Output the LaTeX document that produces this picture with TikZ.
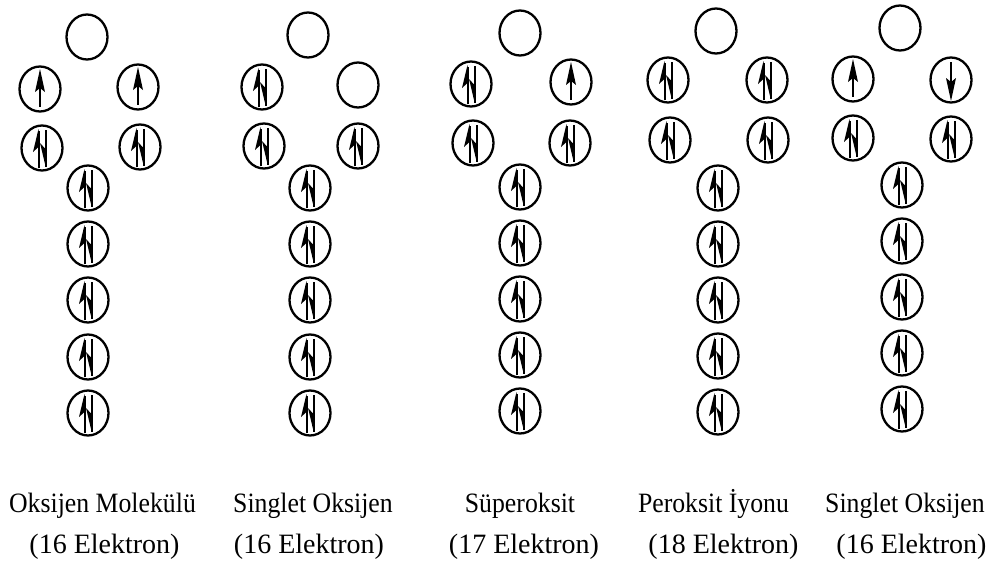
\documentclass[tikz,border=0pt]{standalone}
\usepackage{fontspec}
\setmainfont{Liberation Serif}
\usetikzlibrary{shapes.geometric}
\tikzset{
  orb/.style={draw, ellipse, line width=2.3pt, minimum width=41pt, minimum height=45pt, inner sep=0pt},
  lbl/.style={anchor=base, inner sep=0pt, font=\fontsize{28}{32}\selectfont},
  shaft/.style={line width=2pt},
  pairpic/.pic={
    \draw[shaft] (-3.5,-17) -- (-3.5,20);
    \fill (-3.5,-19) -- (-9,4) -- (-3.5,-1) -- cycle;
    \draw[shaft] (3.5,-18) -- (3.5,19);
    \fill (3.5,18) -- (-2,-5) -- (3.5,1) -- cycle;
  },
  uppic/.pic={
    \draw[shaft] (0,-4) -- (0,18);
    \fill (0,-20) -- (5,3) -- (0,-1) -- (-5,3) -- cycle;
  },
  downpic/.pic={
    \draw[shaft] (0,-18) -- (0,4);
    \fill (0,21) -- (5,-2) -- (0,2) -- (-5,-2) -- cycle;
  }
}
\begin{document}
\begin{tikzpicture}[x=1pt,y=-1pt]
\useasboundingbox (0,0) rectangle (991,563);

% ---- column 1: Oksijen Molekulu
\node[orb] (a0) at (87,37) {};
\node[orb] (a1) at (40,89) {};
\node[orb] (a2) at (138,87) {};
\node[orb] (a3) at (42,148) {};
\node[orb] (a4) at (140,147) {};
\pic at (a1) {uppic};
\pic at (a2) {uppic};
\pic at (a3) {pairpic};
\pic at (a4) {pairpic};
\foreach \y [count=\i] in {188,244,300,357,413}{
  \node[orb] (av\i) at (88,\y) {};
  \pic at (av\i) {pairpic};
}

% ---- column 2: Singlet Oksijen
\node[orb] (b0) at (308,35) {};
\node[orb] (b1) at (262,87) {};
\node[orb] (b2) at (358,85) {};
\node[orb] (b3) at (264,146) {};
\node[orb] (b4) at (358,146) {};
\pic at (b1) {pairpic};
\pic at (b3) {pairpic};
\pic at (b4) {pairpic};
\foreach \y [count=\i] in {188,244,300,357,413}{
  \node[orb] (bv\i) at (310,\y) {};
  \pic at (bv\i) {pairpic};
}

% ---- column 3: Superoksit
\node[orb] (c0) at (520,33) {};
\node[orb] (c1) at (471,84) {};
\node[orb] (c2) at (571,82) {};
\node[orb] (c3) at (473,143) {};
\node[orb] (c4) at (570,143) {};
\pic at (c1) {pairpic};
\pic at (c2) {uppic};
\pic at (c3) {pairpic};
\pic at (c4) {pairpic};
\foreach \y [count=\i] in {187,243,299,355,411}{
  \node[orb] (cv\i) at (520,\y) {};
  \pic at (cv\i) {pairpic};
}

% ---- column 4: Peroksit Iyonu
\node[orb] (d0) at (716,31) {};
\node[orb] (d1) at (668,80) {};
\node[orb] (d2) at (767,80) {};
\node[orb] (d3) at (670,140) {};
\node[orb] (d4) at (768,140) {};
\pic at (d1) {pairpic};
\pic at (d2) {pairpic};
\pic at (d3) {pairpic};
\pic at (d4) {pairpic};
\foreach \y [count=\i] in {188,244,300,356,412}{
  \node[orb] (dv\i) at (718,\y) {};
  \pic at (dv\i) {pairpic};
}

% ---- column 5: Singlet Oksijen
\node[orb] (e0) at (900,28) {};
\node[orb] (e1) at (853,79) {};
\node[orb] (e2) at (951,80) {};
\node[orb] (e3) at (853,138) {};
\node[orb] (e4) at (951,139) {};
\pic at (e1) {uppic};
\pic at (e2) {downpic};
\pic at (e3) {pairpic};
\pic at (e4) {pairpic};
\foreach \y [count=\i] in {185,241,297,353,409}{
  \node[orb] (ev\i) at (902,\y) {};
  \pic at (ev\i) {pairpic};
}

% ---- labels
\node[lbl] (la1) at (102.5,512) {\scalebox{0.92}[1]{Oksijen Molekülü}};
\node[lbl] (la2) at (104.5,553) {(16 Elektron)};
\node[lbl] (lb1) at (313,512) {\scalebox{0.92}[1]{Singlet Oksijen}};
\node[lbl] (lb2) at (309,553) {(16 Elektron)};
\node[lbl] (lc1) at (520,512) {\scalebox{0.92}[1]{Süperoksit}};
\node[lbl] (lc2) at (524,553) {(17 Elektron)};
\node[lbl] (ld1) at (713.5,512) {\scalebox{0.92}[1]{Peroksit İyonu}};
\node[lbl] (ld2) at (723.5,553) {(18 Elektron)};
\node[lbl] (le1) at (905,512) {\scalebox{0.92}[1]{Singlet Oksijen}};
\node[lbl] (le2) at (911.5,553) {(16 Elektron)};
\end{tikzpicture}
\end{document}
